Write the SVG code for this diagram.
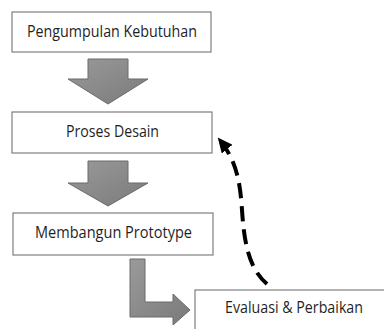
<svg xmlns="http://www.w3.org/2000/svg" width="384" height="329" viewBox="0 0 384 329">
<style>
.box{fill:#ffffff;stroke:#7f7f7f;stroke-width:1.2}
.lbl{font-family:"Open Sans","Liberation Sans",sans-serif;font-size:16.5px;fill:#1f1f1f}
.blk{fill:url(#g);stroke:#6b6b6b;stroke-width:1}
.dash{fill:none;stroke:#000;stroke-width:4;stroke-dasharray:15 8}
</style>
<defs>
<linearGradient id="g" x1="0" y1="0" x2="1" y2="1">
<stop offset="0" stop-color="#9a9a9a"/>
<stop offset="1" stop-color="#7a7a7a"/>
</linearGradient>
<marker id="ah" markerUnits="userSpaceOnUse" viewBox="0 0 15 14" refX="13" refY="7" markerWidth="15" markerHeight="14" orient="auto">
<path d="M0,0 L15,7 L0,14 z" fill="#000"/>
</marker>
</defs>
<rect width="384" height="329" fill="#ffffff"/>
<g id="connectors">
<polygon class="blk" points="88,59 128,59 128,79 148,79 108,104 68,79 88,79"/>
<polygon class="blk" points="88,161 128,161 128,183 148,183 108,206 68,183 88,183"/>
<polygon class="blk" points="130,259 145,259 145,302 173,302 173,294 190,310 173,325 173,317 130,317"/>
<path class="dash" d="M267,284 C248,268 244,240 242,210 C240,180 236,160 219,139" marker-end="url(#ah)"/>
</g>
<g id="n1">
<rect class="box" x="12" y="12" width="199" height="40"/>
<text class="lbl" x="112" y="37" text-anchor="middle" textLength="170" lengthAdjust="spacingAndGlyphs">Pengumpulan Kebutuhan</text>
</g>
<g id="n2">
<rect class="box" x="12" y="112" width="200" height="41"/>
<text class="lbl" x="112.5" y="137" text-anchor="middle" textLength="93" lengthAdjust="spacingAndGlyphs">Proses Desain</text>
</g>
<g id="n3">
<rect class="box" x="13" y="213" width="200" height="42"/>
<text class="lbl" x="113.5" y="238" text-anchor="middle" textLength="157" lengthAdjust="spacingAndGlyphs">Membangun Prototype</text>
</g>
<g id="n4">
<rect class="box" x="195" y="290" width="200" height="50"/>
<text class="lbl" x="225" y="313" textLength="138" lengthAdjust="spacingAndGlyphs">Evaluasi &amp; Perbaikan</text>
</g>
</svg>
